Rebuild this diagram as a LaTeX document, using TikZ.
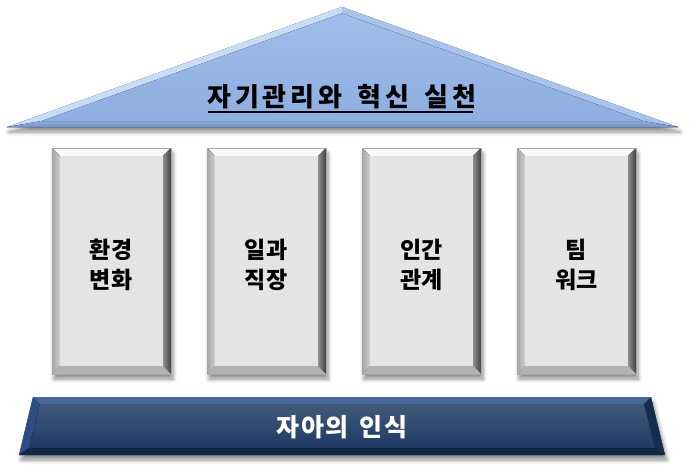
\documentclass[tikz,border=0pt]{standalone}
\usepackage{fontspec}
\setmainfont{Noto Sans CJK KR}
\usetikzlibrary{shadows.blur}
\definecolor{roofA}{HTML}{ACC8EE}
\definecolor{roofB}{HTML}{8DAEE0}
\definecolor{roofHi}{HTML}{C9DCF5}
\definecolor{roofHi2}{HTML}{A9C3EC}
\definecolor{roofLo}{HTML}{6F92C8}
\definecolor{pilFace}{HTML}{E4E4E4}
\definecolor{pilTop}{HTML}{F9F9F9}
\definecolor{pilLeft}{HTML}{CFCFCF}
\definecolor{pilRight}{HTML}{6A6A6A}
\definecolor{pilBot}{HTML}{B2B2B2}
\definecolor{baseFace}{HTML}{1F3B64}
\definecolor{baseTop}{HTML}{44689A}
\definecolor{baseLeft}{HTML}{2D4E7E}
\definecolor{baseRight}{HTML}{162D50}
\definecolor{baseBot}{HTML}{132746}
\tikzset{
  sh/.style={blur shadow={shadow xshift=2pt,shadow yshift=-5pt,shadow blur steps=6,shadow opacity=45,shadow blur radius=4pt}},
  title/.style={font=\bfseries\fontsize{26}{30}\selectfont\addfontfeature{LetterSpace=14},text=black,inner sep=0pt},
  pillartext/.style={font=\bfseries\fontsize{23}{30}\selectfont\addfontfeature{LetterSpace=3},text=black,align=center,inner sep=0pt},
  basetext/.style={font=\bfseries\fontsize{25}{29}\selectfont\addfontfeature{LetterSpace=7},text=white,inner sep=0pt},
}
\newcommand{\pillar}[1]{%
  \begin{scope}[xshift=#1pt]
    \path[fill=pilFace,sh] (0,148) rectangle (119,374);
    \fill[pilTop] (0,148) -- (119,148) -- (111,156) -- (8,156) -- cycle;
    \fill[left color=pilLeft!80!black,right color=pilLeft] (0,148) -- (8,156) -- (8,366) -- (0,374) -- cycle;
    \fill[left color=pilRight!70!pilFace,right color=pilRight!60!black] (119,148) -- (119,374) -- (111,366) -- (111,156) -- cycle;
    \fill[pilBot] (0,374) -- (119,374) -- (111,366) -- (8,366) -- cycle;
    \fill[pilFace] (8,156) rectangle (111,366);
    \draw[gray!70,line width=0.6pt] (0,148) rectangle (119,374);
  \end{scope}
}
\begin{document}
\begin{tikzpicture}[x=1pt,y=-1pt]
\useasboundingbox (0,0) rectangle (693,471);
% roof
\path[fill=roofB,sh] (7,127) -- (342,7) -- (678,127) -- cycle;
\fill[top color=roofA,bottom color=roofB] (7,127) -- (342,7) -- (678,127) -- cycle;
\fill[roofHi] (7,127) -- (342,7) -- (342,13.4) -- (41.6,121) -- cycle;
\fill[roofHi2] (678,127) -- (342,7) -- (342,13.4) -- (643.4,121) -- cycle;
\fill[top color=roofB,bottom color=roofLo] (7,127) -- (678,127) -- (643.4,121) -- (41.6,121) -- cycle;
\fill[top color=roofA!60!roofB,bottom color=roofB] (41.6,121) -- (342,13.4) -- (643.4,121) -- cycle;
\node[title] (roof) at (342,97) {자기관리와\hspace{0.6em}혁신\hspace{0.6em}실천};
\draw[black,line width=1.8pt] ([yshift=-5.5pt]roof.base west) -- ([yshift=-5.5pt,xshift=-3.5pt]roof.base east);
% pillars
\pillar{52}
\pillar{207}
\pillar{362}
\pillar{517}
\node[pillartext] (p1) at (111.5,265) {환경\\변화};
\node[pillartext] (p2) at (266.5,265) {일과\\직장};
\node[pillartext] (p3) at (421.5,265) {인간\\관계};
\node[pillartext] (p4) at (576.5,265) {팀\\워크};
% base
\path[fill=baseFace,sh] (33,397) -- (651,397) -- (665,455) -- (19,455) -- cycle;
\fill[baseTop] (33,397) -- (651,397) -- (644,404) -- (40,404) -- cycle;
\fill[baseLeft] (33,397) -- (40,404) -- (29,448) -- (19,455) -- cycle;
\fill[baseRight] (651,397) -- (665,455) -- (655,448) -- (644,404) -- cycle;
\fill[baseBot] (19,455) -- (665,455) -- (655,448) -- (29,448) -- cycle;
\fill[top color=baseFace!85!white,bottom color=baseFace] (40,404) -- (644,404) -- (655,448) -- (29,448) -- cycle;
\node[basetext] (base) at (342,427) {자아의\hspace{0.45em}인식};
\end{tikzpicture}
\end{document}
